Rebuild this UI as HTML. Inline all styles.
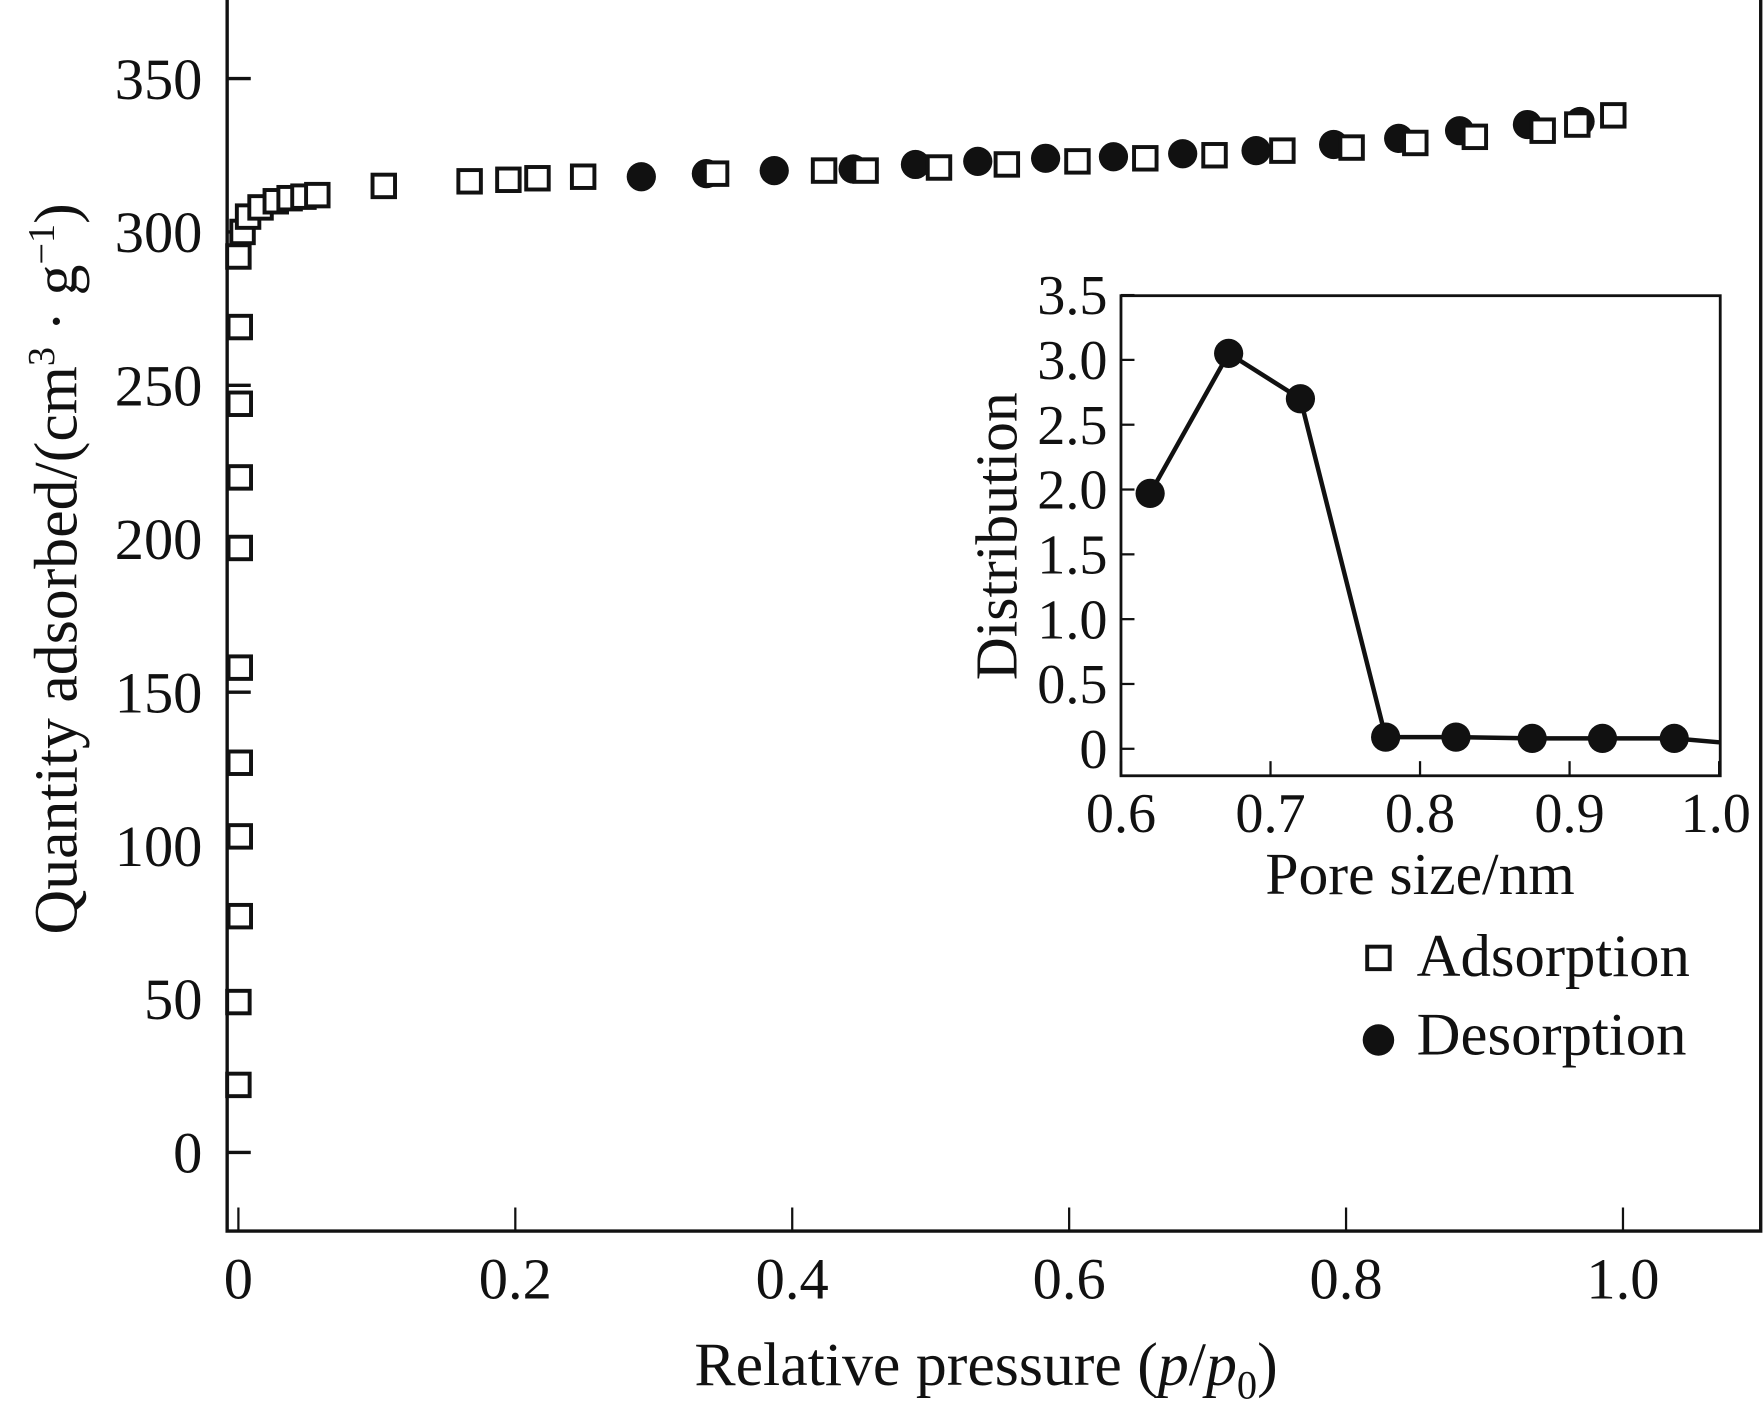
<!DOCTYPE html>
<html><head><meta charset="utf-8"><style>html,body{margin:0;padding:0;background:#fff}svg{display:block}text{font-family:"Liberation Serif",serif;fill:#111}</style></head>
<body>
<svg id="chart" width="1763" height="1420" viewBox="0 0 1568 1263" xmlns="http://www.w3.org/2000/svg">
<g id="main"></g><g id="inset"></g>
</svg>
<script>
// Main chart data
const adsX = [0.0,0.0,0.001,0.001,0.001,0.001,0.001,0.001,0.001,0.001,0.0,0.003,0.007,0.016,0.027,0.037,0.047,0.057,0.105,0.167,0.195,0.216,0.249,0.345,0.423,0.453,0.506,0.555,0.606,0.655,0.705,0.754,0.804,0.85,0.893,0.942,0.967,0.993];
const adsY = [22,49,77,103,127,158,197,220,244,269,292,300,305,308,310,311,311.5,312,315,316.5,317,317.5,318,319,320,320,321,322,323,324,325,326.5,327.5,329,331,333,335,338];
const desX = [0.291,0.338,0.387,0.444,0.489,0.534,0.583,0.632,0.682,0.735,0.791,0.838,0.882,0.931,0.969];
const desY = [318,319,320,320.5,322,323,324,324.5,325.5,326.5,328.5,330.5,333,335,336];
const xTicks = [0,0.2,0.4,0.6,0.8,1.0];
const xTickLabels = ["0","0.2","0.4","0.6","0.8","1.0"];
const yTicks = [0,50,100,150,200,250,300,350];
// Inset data
const poreX = [0.6195,0.672,0.72,0.777,0.824,0.875,0.922,0.97,1.0];
const poreY = [1.97,3.05,2.7,0.09,0.09,0.08,0.08,0.08,0.05];
const insetXTicks = [0.6,0.7,0.8,0.9,1.0];
const insetXLabels = ["0.6","0.7","0.8","0.9","1.0"];
const insetYTicks = [0,0.5,1.0,1.5,2.0,2.5,3.0,3.5];
const insetYLabels = ["0","0.5","1.0","1.5","2.0","2.5","3.0","3.5"];

const NS="http://www.w3.org/2000/svg";
function mk(parent,tag,attrs,text){const e=document.createElementNS(NS,tag);for(const k in attrs)e.setAttribute(k,attrs[k]);if(text!==undefined)e.textContent=text;parent.appendChild(e);return e;}
const X=v=>212+v*1231.5, Y=v=>1025-v*2.729;
const main=document.getElementById('main');
let f=mk(main,'path',{d:'M202,0 V1095 H1566 V0',fill:'none',stroke:'#111','stroke-width':3});


xTicks.forEach((t,i)=>{
  let l=mk(main,'line',{x1:X(t),x2:X(t),y1:1095,y2:1074,stroke:'#111','stroke-width':2});
  
  
  let tx=mk(main,'text',{x:X(t),y:1155,'font-size':52,'text-anchor':'middle'},xTickLabels[i]);
  
  
});
yTicks.forEach(t=>{
  let l=mk(main,'line',{x1:202,x2:223,y1:Y(t),y2:Y(t),stroke:'#111','stroke-width':3});
  
  
  let tx=mk(main,'text',{x:180,y:Y(t)+18,'font-size':52,'text-anchor':'end'},String(t));
  
  
});
let xt=mk(main,'text',{x:877,y:1232,'font-size':55,'text-anchor':'middle'});


xt.innerHTML='Relative pressure (<tspan font-style="italic">p</tspan>/<tspan font-style="italic">p</tspan><tspan font-size="36" dy="12">0</tspan><tspan dy="-12">)</tspan>';
let yt=mk(main,'text',{transform:'translate(68,506) rotate(-90)','font-size':55,'text-anchor':'middle'});


yt.innerHTML='Quantity adsorbed/(cm<tspan font-size="34" dy="-20">3</tspan><tspan dy="20"> · g</tspan><tspan font-size="34" dy="-20">−1</tspan><tspan dy="20">)</tspan>';
desX.forEach((v,i)=>{
  let c=mk(main,'circle',{cx:X(v),cy:Y(desY[i]),r:13,fill:'#111'});
  
  
});
adsX.forEach((v,i)=>{
  let r=mk(main,'rect',{x:X(v)-10,y:Y(adsY[i])-10,width:20,height:20,fill:'#fff',stroke:'#111','stroke-width':3.5});
  
  
});
// legend
let lg=mk(main,'g',{});


let ls=mk(lg,'rect',{x:1216,y:842,width:20,height:20,fill:'#fff',stroke:'#111','stroke-width':3.5});


let lt1=mk(lg,'text',{x:1260,y:868,'font-size':54},'Adsorption');


let lc=mk(lg,'circle',{cx:1226,cy:925,r:14,fill:'#111'});


let lt2=mk(lg,'text',{x:1260,y:938,'font-size':54},'Desorption');



// inset
const ins=document.getElementById('inset');
const IX=v=>997+(v-0.6)*1330, IY=v=>666-v*115.3;
let fr=mk(ins,'rect',{x:997,y:263,width:533,height:427,fill:'#fff',stroke:'#111','stroke-width':2.5});


insetXTicks.forEach((t,i)=>{
  let l=mk(ins,'line',{x1:IX(t),x2:IX(t),y1:690,y2:677,stroke:'#111','stroke-width':2});
  
  
  let tx=mk(ins,'text',{x:Math.min(IX(t),1526),y:740,'font-size':50,'text-anchor':'middle'},insetXLabels[i]);
  
  
});
insetYTicks.forEach((t,i)=>{
  let l=mk(ins,'line',{x1:997,x2:1009,y1:IY(t),y2:IY(t),stroke:'#111','stroke-width':2});
  
  
  let tx=mk(ins,'text',{x:985,y:IY(t)+17,'font-size':50,'text-anchor':'end'},insetYLabels[i]);
  
  
});
let ixt=mk(ins,'text',{x:1263,y:795,'font-size':53,'text-anchor':'middle'},'Pore size/nm');


let iyt=mk(ins,'text',{transform:'translate(904,477) rotate(-90)','font-size':53,'text-anchor':'middle'},'Distribution');


let pl=mk(ins,'polyline',{points:poreX.map((v,i)=>IX(v)+','+IY(poreY[i])).join(' '),fill:'none',stroke:'#111','stroke-width':4});


poreX.slice(0,8).forEach((v,i)=>{
  let c=mk(ins,'circle',{cx:IX(v),cy:IY(poreY[i]),r:13,fill:'#111'});
  
  
});
</script>
</body></html>
